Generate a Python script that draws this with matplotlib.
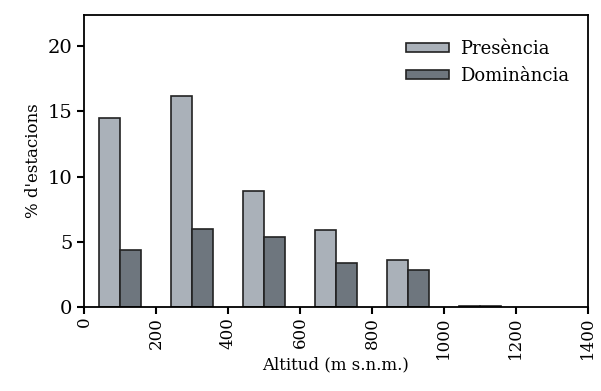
import matplotlib.pyplot as plt
import numpy as np

# Altitude classes (bin centres, m) and % of stations
altitud = [100, 300, 500, 700, 900, 1100]
presencia = [14.5, 16.2, 8.9, 5.9, 3.6, 0.1]
dominancia = [4.4, 6.0, 5.4, 3.4, 2.8, 0.05]
xticks = [0, 200, 400, 600, 800, 1000, 1200, 1400]
yticks = [0, 5, 10, 15, 20]

plt.rcParams['font.family'] = 'DejaVu Serif'

fig = plt.figure(figsize=(6.01, 3.91), dpi=100)
ax = fig.add_axes([0.14, 0.215, 0.838, 0.747])

x = np.array(altitud)
w = 58
ax.bar(x - w / 2, presencia, width=w, color='#aab1b9', edgecolor='#222222',
       linewidth=1.2, label='Presència')
ax.bar(x + w / 2, dominancia, width=w, color='#6e767e', edgecolor='#222222',
       linewidth=1.2, label='Dominància')

ax.set_xlim(0, 1400)
ax.set_ylim(0, 22.4)
ax.set_xticks(xticks)
ax.set_xticklabels([str(t) for t in xticks], rotation=90, fontsize=12)
ax.set_yticks(yticks)
ax.set_yticklabels([str(t) for t in yticks], fontsize=14)
ax.tick_params(direction='out', length=5, width=1.5)
ax.tick_params(axis='x', pad=2)
for s in ax.spines.values():
    s.set_linewidth(1.3)

ax.set_xlabel('Altitud (m s.n.m.)', fontsize=12, labelpad=-2)
ax.set_ylabel("% d'estacions", fontsize=12)

ax.legend(loc='upper right', frameon=False, fontsize=13, handlelength=2.4,
          handleheight=0.45, labelspacing=0.5, handletextpad=0.6,
          bbox_to_anchor=(0.995, 0.97))

fig.savefig('out.png', dpi=100)
